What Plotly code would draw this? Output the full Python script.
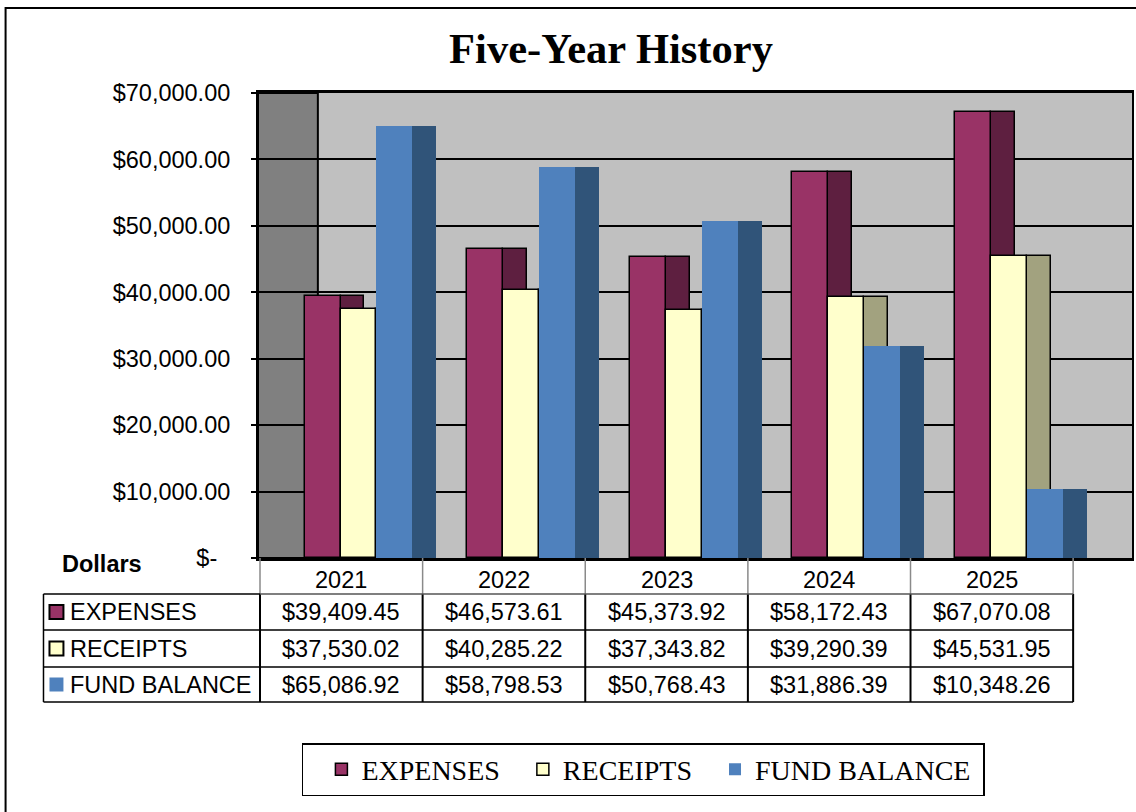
import plotly.graph_objects as go

# ---------------- data ----------------
years = ["2021", "2022", "2023", "2024", "2025"]
expenses = [39409.45, 46573.61, 45373.92, 58172.43, 67070.08]
receipts = [37530.02, 40285.22, 37343.82, 39290.39, 45531.95]
fund_balance = [65086.92, 58798.53, 50768.43, 31886.39, 10348.26]
series_names = ["EXPENSES", "RECEIPTS", "FUND BALANCE"]
y_tick_values = [0, 10000, 20000, 30000, 40000, 50000, 60000, 70000]
y_tick_labels = ["$-\u00a0\u00a0", "$10,000.00", "$20,000.00", "$30,000.00",
                 "$40,000.00", "$50,000.00", "$60,000.00", "$70,000.00"]
title_text = "Five-Year History"
axis_title = "Dollars"

# ---------------- styles ----------------
front_colors = ["#993366", "#FFFFCC", "#4F81BD"]
side_colors = ["#5E1F40", "#A2A27F", "#305479"]
outline = ["black", "black", "rgba(0,0,0,0)"]
front_offsets = [-0.226, -0.005, 0.216]
bar_w = 0.221
depth_w = 0.147
legend_pad = ["", "", "\u00a0"]

W, H = 1136, 812
L, R, T, B = 258, 1134, 93, 558   # plot-area pixel box


def px(p):
    return (p - L) / (R - L)


def py(p):
    return (B - p) / (B - T)


x = list(range(len(years)))
unit = 163.0
x_lo = -0.5 - (260 - L) / unit
x_hi = x_lo + (R - L) / unit

values = [expenses, receipts, fund_balance]

fig = go.Figure()
for k, (name, vals) in enumerate(zip(series_names, values)):
    lw = 1.5 if k < 2 else 0
    # side (depth) face
    fig.add_trace(go.Bar(
        x=x, y=vals, offset=front_offsets[k] + bar_w, width=depth_w,
        marker=dict(color=side_colors[k], line=dict(color=outline[k], width=lw)),
        showlegend=False, hoverinfo="skip"))
    # front face
    fig.add_trace(go.Bar(
        x=x, y=vals, offset=front_offsets[k], width=bar_w, name=name + legend_pad[k],
        marker=dict(color=front_colors[k], line=dict(color=outline[k], width=lw))))

font_sans = "Liberation Sans, Arial, sans-serif"
font_serif = "Liberation Serif, Times New Roman, serif"

shapes = []
annotations = []

# outer chart frame
shapes.append(dict(type="rect", xref="paper", yref="paper",
                   x0=px(5), x1=px(1142), y0=py(816), y1=py(8),
                   line=dict(color="black", width=2), fillcolor="rgba(0,0,0,0)"))
# side wall
shapes.append(dict(type="rect", xref="paper", yref="paper",
                   x0=0, x1=px(318), y0=0, y1=1,
                   fillcolor="#808080", line=dict(color="black", width=2),
                   layer="below"))

# ---------------- data table ----------------
row_tops = [558, 594, 630, 667, 702]
lab_left = 43
key_x0, key_x1 = 49, 63
n = len(years)
for i in range(n + 1):
    shapes.append(dict(type="line", xref="x", yref="paper",
                       x0=i - 0.5, x1=i - 0.5, y0=py(row_tops[0]), y1=py(row_tops[1]),
                       line=dict(color="#8a8a8a", width=1.5)))
    shapes.append(dict(type="line", xref="x", yref="paper",
                       x0=i - 0.5, x1=i - 0.5, y0=py(row_tops[1]), y1=py(row_tops[4]),
                       line=dict(color="black", width=2)))
for j, yy in enumerate(row_tops[1:]):
    col = "#555555" if j == 0 else "black"
    shapes.append(dict(type="line", xref="x", yref="paper",
                       x0=-0.5, x1=n - 0.5, y0=py(yy), y1=py(yy),
                       line=dict(color=col, width=1.5)))
    shapes.append(dict(type="line", xref="paper", yref="paper",
                       x0=px(lab_left), x1=px(260), y0=py(yy), y1=py(yy),
                       line=dict(color="black", width=1.5)))
shapes.append(dict(type="line", xref="paper", yref="paper",
                   x0=px(lab_left), x1=px(lab_left), y0=py(row_tops[1]), y1=py(row_tops[4]),
                   line=dict(color="black", width=1.5)))

for i, yr in enumerate(years):
    annotations.append(dict(x=i, y=py((row_tops[0] + row_tops[1]) / 2 + 4), xref="x", yref="paper",
                            text=yr, showarrow=False, xanchor="center", yanchor="middle",
                            font=dict(family=font_sans, size=23.5, color="black")))
for k, (name, vals) in enumerate(zip(series_names, values)):
    yc = (row_tops[k + 1] + row_tops[k + 2]) / 2
    shapes.append(dict(type="rect", xref="paper", yref="paper",
                       x0=px(key_x0), x1=px(key_x1), y0=py(yc + 7), y1=py(yc - 7),
                       fillcolor=front_colors[k],
                       line=dict(color=outline[k], width=2 if k < 2 else 0)))
    annotations.append(dict(x=px(68), y=py(yc), xref="paper", yref="paper",
                            text=name, showarrow=False, xanchor="left", yanchor="middle",
                            font=dict(family=font_sans, size=23.5, color="black")))
    for i, v in enumerate(vals):
        annotations.append(dict(x=i, y=py(yc), xref="x", yref="paper",
                                text=f"${v:,.2f}", showarrow=False,
                                xanchor="center", yanchor="middle",
                                font=dict(family=font_sans, size=23.5, color="black")))

annotations.append(dict(x=px(102), y=py(564), xref="paper", yref="paper",
                        text=f"<b>{axis_title}</b>", showarrow=False,
                        xanchor="center", yanchor="middle",
                        font=dict(family=font_sans, size=23.5, color="black")))

fig.update_layout(
    width=W, height=H,
    margin=dict(l=L, r=W - R, t=T, b=H - B, pad=0),
    paper_bgcolor="white", plot_bgcolor="#C0C0C0",
    barmode="overlay", bargap=0,
    title=dict(text=f"<b>{title_text}</b>", x=611 / W, xanchor="center",
               y=1 - 48 / H, yanchor="middle", xref="container", yref="container",
               font=dict(family=font_serif, size=42.5, color="black")),
    xaxis=dict(range=[x_lo, x_hi], showticklabels=False, showgrid=False,
               zeroline=False, showline=True, linecolor="black", linewidth=3,
               mirror=True, ticks="", fixedrange=True),
    yaxis=dict(range=[0, 70000], tickvals=y_tick_values, ticktext=y_tick_labels,
               showgrid=True, gridcolor="black", gridwidth=2, zeroline=False,
               showline=True, linecolor="black", linewidth=2, mirror=True,
               ticks="outside", ticklen=5, tickwidth=2, tickcolor="black",
               ticklabelstandoff=16,
               tickfont=dict(family=font_sans, size=23.5, color="black")),
    legend=dict(orientation="h", x=px(302), xanchor="left", y=py(743), yanchor="top",
                bgcolor="white", bordercolor="black", borderwidth=1.5,
                font=dict(family=font_serif, size=28, color="black"),
                indentation=18, traceorder="normal"),
    shapes=shapes, annotations=annotations,
)

fig.write_html("out.html", config={"displayModeBar": False},
               post_script="document.body.style.margin='0';")
